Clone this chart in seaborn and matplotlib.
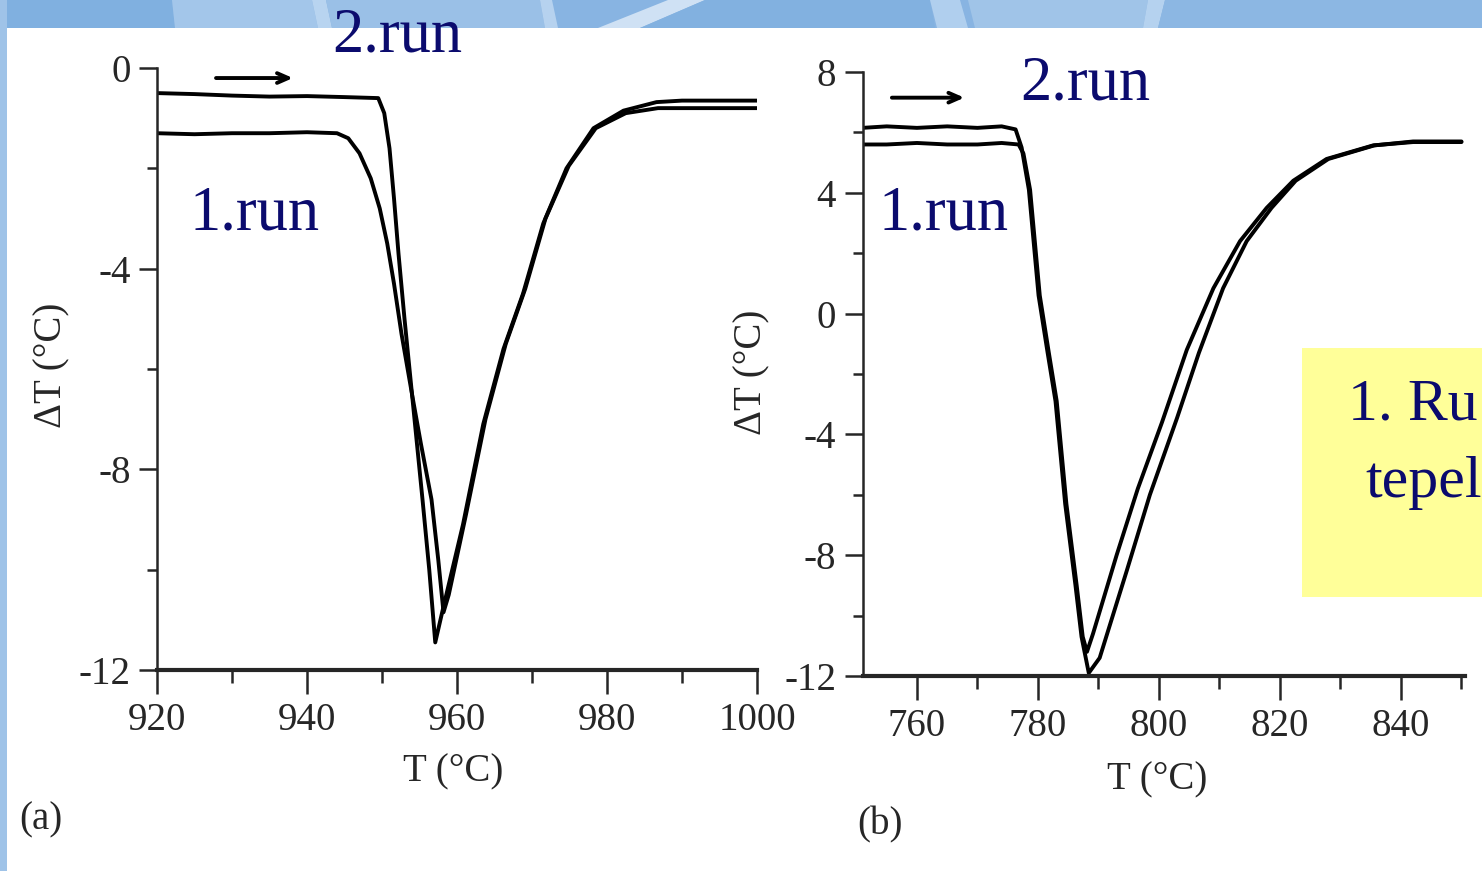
import matplotlib
matplotlib.use('Agg')
import matplotlib.pyplot as plt
import seaborn as sns
from matplotlib.patches import Polygon, Rectangle
from matplotlib.ticker import MultipleLocator

# panel (a): DTA curves, 920-1000 C
a_T_run2 = [920, 925, 930, 935, 940, 945, 949.5, 950.3, 951.0, 951.6, 952.2, 953.0, 954.0,
            955.4, 956.3, 957.1, 958.1, 960.8, 963.5, 966.2, 968.8, 971.5, 974.6, 978.2,
            982.2, 986.6, 990, 995, 1000]
a_dT_run2 = [-0.5, -0.52, -0.55, -0.57, -0.56, -0.58, -0.6, -0.9, -1.6, -2.6, -3.7, -5.0, -6.5,
             -8.6, -10.0, -11.45, -10.8, -9.1, -7.1, -5.6, -4.5, -3.1, -2.0, -1.2,
             -0.85, -0.68, -0.65, -0.65, -0.65]
a_T_run1 = [920, 925, 930, 935, 940, 944, 945.5, 947, 948.5, 949.7, 950.7, 951.6, 952.6, 954.0,
            955.2, 956.6, 957.5, 958.2, 958.9, 961.2, 963.8, 966.5, 969.1, 971.8, 974.9,
            978.5, 982.5, 986.8, 990, 995, 1000]
a_dT_run1 = [-1.3, -1.32, -1.3, -1.3, -1.28, -1.3, -1.4, -1.7, -2.2, -2.8, -3.5, -4.3, -5.3, -6.5,
             -7.5, -8.6, -9.8, -10.85, -10.5, -8.9, -7.0, -5.5, -4.4, -3.0, -1.95,
             -1.2, -0.9, -0.8, -0.8, -0.8, -0.8]

# panel (b): DTA curves, 750-850 C
b_T_run2 = [751, 755, 760, 765, 770, 774, 776.3, 777.3, 778.5, 780.1, 781.6, 782.9, 784.5, 786.2,
            787.2, 788.4, 790.2, 794.7, 798.5, 803.0, 806.6, 810.6, 814.5, 818.6, 822.6,
            828.0, 835.6, 842, 850]
b_dT_run2 = [6.15, 6.2, 6.15, 6.2, 6.15, 6.2, 6.1, 5.5, 4.1, 0.6, -1.3, -2.9, -6.3, -9.0,
             -10.7, -11.9, -11.4, -8.5, -6.0, -3.45, -1.3, 0.84, 2.4, 3.5, 4.4,
             5.12, 5.57, 5.7, 5.7]
b_T_run1 = [751, 755, 760, 765, 770, 774, 776.8, 777.6, 778.7, 780.3, 781.8, 783.1, 784.7, 786.4,
            787.4, 788.1, 789.1, 793.0, 796.5, 800.5, 804.6, 809.0, 813.4, 817.8, 822.2,
            827.7, 835.4, 842, 850]
b_dT_run1 = [5.6, 5.6, 5.65, 5.6, 5.6, 5.65, 5.6, 5.3, 4.1, 0.6, -1.3, -2.9, -6.3, -9.0,
             -10.7, -11.2, -10.6, -8.0, -5.8, -3.6, -1.2, 0.84, 2.4, 3.5, 4.4,
             5.12, 5.57, 5.68, 5.68]

a_xticks = [920, 940, 960, 980, 1000]
b_xticks = [760, 780, 800, 820, 840]
a_yticks = [0, -4, -8, -12]
b_yticks = [8, 4, 0, -4, -8, -12]

W, H = 1482, 871
NAVY = '#0b0b6e'

sns.set_style('ticks')
plt.rcParams['font.family'] = ['Liberation Serif', 'DejaVu Serif']
plt.rcParams['axes.unicode_minus'] = False

fig = plt.figure(figsize=(W / 100, H / 100), dpi=100)
fig.patch.set_facecolor('#88b4e2')


def fx(x):
    return x / W


def fy(y):
    return 1 - y / H


def band(pts, color):
    fig.add_artist(Polygon([(fx(x), fy(y)) for x, y in pts], closed=True,
                           transform=fig.transFigure, facecolor=color,
                           edgecolor='none', zorder=0))


# slide background streaks
band([(0, 0), (172, 0), (175, 28), (0, 28)], '#80b0e0')
band([(172, 0), (312, 0), (318, 28), (175, 28)], '#a3c6ea')
band([(312, 0), (326, 0), (332, 28), (318, 28)], '#b8d4f0')
band([(326, 0), (540, 0), (545, 28), (332, 28)], '#9ac0e7')
band([(540, 0), (552, 0), (558, 28), (545, 28)], '#b6d2ef')
band([(598, 28), (640, 28), (705, 0), (668, 0)], '#cfe1f4')
band([(705, 0), (930, 0), (935, 28), (640, 28)], '#82b1e0')
band([(930, 0), (960, 0), (968, 28), (937, 28)], '#b0cfee')
band([(968, 0), (1148, 0), (1143, 28), (975, 28)], '#a0c4e8')
band([(1148, 0), (1165, 0), (1158, 28), (1143, 28)], '#b5d2ef')
band([(1165, 0), (1482, 0), (1482, 28), (1158, 28)], '#8cb7e3')
fig.add_artist(Rectangle((fx(0), 0), fx(7), 1, transform=fig.transFigure,
                         facecolor='#9fc3e8', edgecolor='none', zorder=0))
fig.add_artist(Rectangle((fx(7), 0), 1 - fx(7), fy(28), transform=fig.transFigure,
                         facecolor='white', edgecolor='none', zorder=0))

ax1 = fig.add_axes([fx(157), fy(670), fx(600), 602 / H])
ax2 = fig.add_axes([fx(862.5), fy(676), fx(602), 604 / H])

panels = [
    (ax1, a_T_run1, a_dT_run1, a_T_run2, a_dT_run2, (920, 1000), (-12, 0), a_xticks, a_yticks),
    (ax2, b_T_run1, b_dT_run1, b_T_run2, b_dT_run2, (751, 850.5), (-12, 8), b_xticks, b_yticks),
]
for ax, t1, d1, t2, d2, xl, yl, xt, yt in panels:
    ax.patch.set_alpha(0)
    sns.lineplot(x=t1, y=d1, ax=ax, color='black', linewidth=2.8, estimator=None)
    sns.lineplot(x=t2, y=d2, ax=ax, color='black', linewidth=2.8, estimator=None)
    ax.set_xlim(*xl)
    ax.set_ylim(*yl)
    ax.set_xticks(xt)
    ax.set_yticks(yt)
    ax.xaxis.set_minor_locator(MultipleLocator(10))
    ax.yaxis.set_minor_locator(MultipleLocator(2))
    sns.despine(ax=ax)
    ax.spines['left'].set_linewidth(1.8)
    ax.spines['bottom'].set_linewidth(3)
    ax.tick_params(axis='x', which='major', length=17, width=1.8, pad=6, labelsize=28)
    ax.tick_params(axis='x', which='minor', length=9, width=1.8)
    ax.tick_params(axis='y', which='major', length=13, width=1.8, pad=6, labelsize=28)
    ax.tick_params(axis='y', which='minor', length=7, width=1.8)
    ax.set_xlabel('')
    ax.set_ylabel('')

# heating direction arrows
ax1.annotate('', xy=(938.5, -0.2), xytext=(927.5, -0.2),
             arrowprops=dict(arrowstyle='->,head_length=0.8,head_width=0.35', lw=2.8, color='black'))
ax2.annotate('', xy=(768.3, 7.15), xytext=(755.4, 7.15),
             arrowprops=dict(arrowstyle='->,head_length=0.8,head_width=0.35', lw=2.8, color='black'))

# axis titles of the scanned figure
fig.text(fx(52), fy(365), 'ΔT (°C)', rotation=90, ha='center', va='center', fontsize=28)
fig.text(fx(752), fy(372), 'ΔT (°C)', rotation=90, ha='center', va='center', fontsize=28)
fig.text(fx(453), fy(772), 'T (°C)', ha='center', va='center', fontsize=28)
fig.text(fx(1157), fy(780), 'T (°C)', ha='center', va='center', fontsize=28)
fig.text(fx(41), fy(820), '(a)', ha='center', va='center', fontsize=28)
fig.text(fx(880), fy(825), '(b)', ha='center', va='center', fontsize=28)

# slide annotations
for x, y, s in [(332, 52, '2.run'), (190, 230, '1.run'), (1020, 100, '2.run'), (878, 230, '1.run')]:
    fig.text(fx(x), fy(y), s, ha='left', va='baseline', fontsize=45, color=NAVY)

# yellow note box, cut by the slide edge
box = fig.add_axes([fx(1302), fy(597), fx(180), 249 / H])
box.set_facecolor('#ffff99')
box.set_xticks([])
box.set_yticks([])
for s in box.spines.values():
    s.set_visible(False)
box.text(46 / 180, 178 / 249, '1. Ru', ha='left', va='baseline', fontsize=43, color=NAVY)
box.text(63 / 180, 100 / 249, 'tepel', ha='left', va='baseline', fontsize=43, color=NAVY)

fig.savefig('out.png', dpi=100)
